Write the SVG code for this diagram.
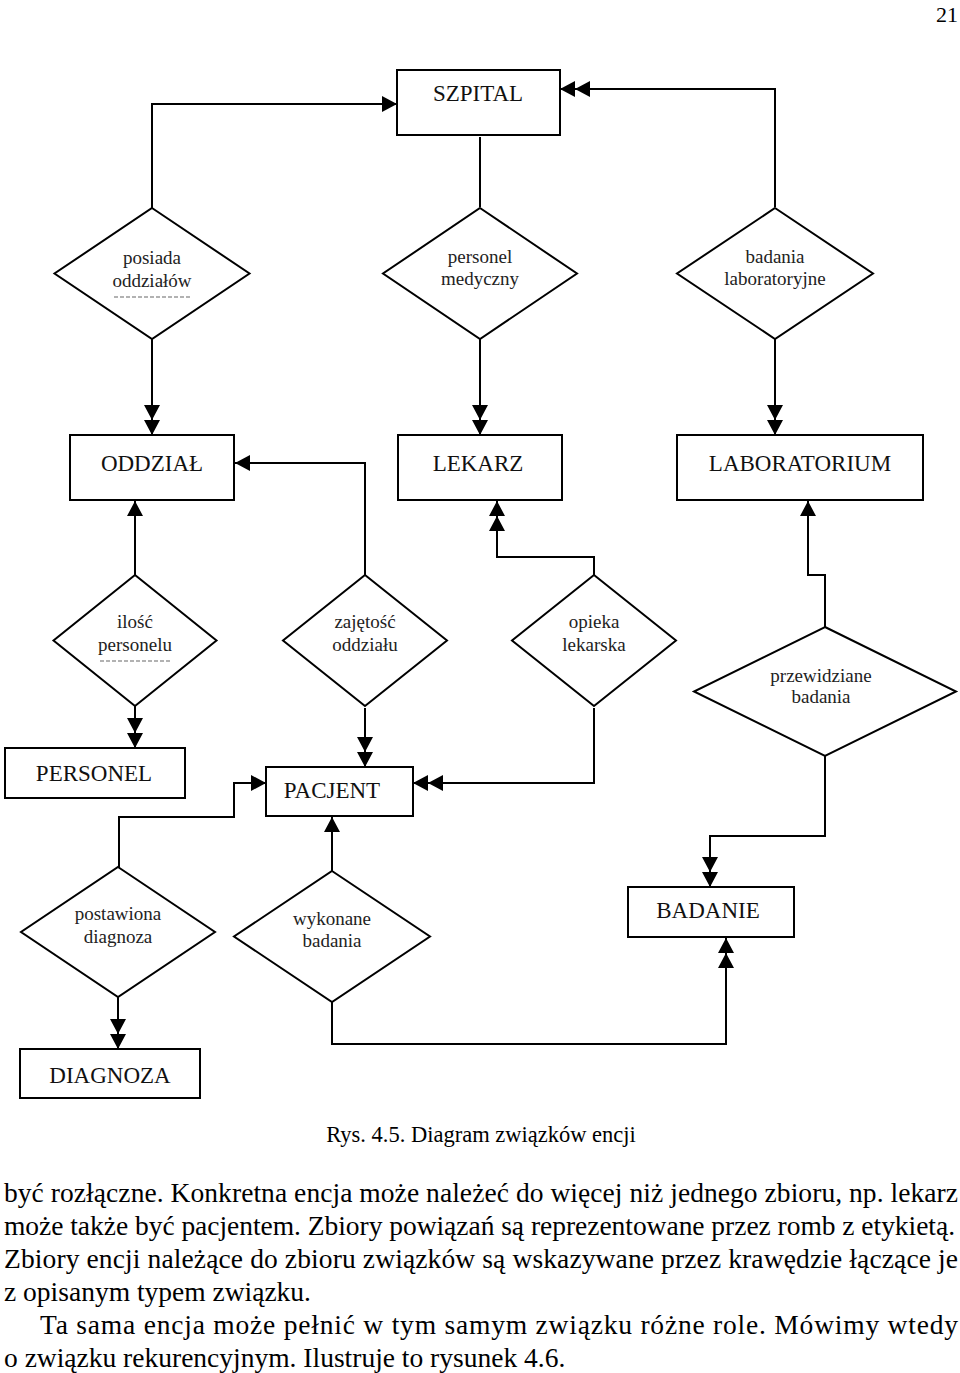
<svg xmlns="http://www.w3.org/2000/svg" width="960" height="1373" viewBox="0 0 960 1373">
<style>
  .bg{fill:#ffffff}
  .ent{fill:#ffffff;stroke:#000;stroke-width:2}
  .rel{fill:#ffffff;stroke:#000;stroke-width:2}
  .et{font-family:"Liberation Serif","Times New Roman",serif;font-size:23px;fill:#111;text-anchor:middle}
  .rt{font-family:"Liberation Serif","Times New Roman",serif;font-size:19px;fill:#222;text-anchor:middle}
  .con{fill:none;stroke:#000;stroke-width:2}
  .body{font-family:"Liberation Serif","Times New Roman",serif;font-size:27.5px;fill:#000}
  .cap{font-family:"Liberation Serif","Times New Roman",serif;font-size:22.5px;fill:#000;text-anchor:middle}
  .art{stroke:#666;stroke-width:1.2;stroke-dasharray:4,2}
</style>
<defs>
  <marker id="a1" markerUnits="userSpaceOnUse" markerWidth="16" markerHeight="18" refX="15" refY="8" orient="auto" overflow="visible">
    <path d="M0,0 L15,8 L0,16 Z" fill="#000"/>
  </marker>
  <marker id="a2" markerUnits="userSpaceOnUse" markerWidth="32" markerHeight="18" refX="30" refY="8" orient="auto" overflow="visible">
    <path d="M0,0 L15,8 L0,16 Z M15,0 L30,8 L15,16 Z" fill="#000"/>
  </marker>
</defs>
<rect class="bg" x="0" y="0" width="960" height="1373"/>
<text x="958" y="22" style="font-family:'Liberation Serif',serif;font-size:22px;text-anchor:end">21</text>

<g id="connectors">
  <path class="con" d="M152,208 V104 H397" marker-end="url(#a1)"/>
  <path class="con" d="M480,207 V137"/>
  <path class="con" d="M775,207 V89 H560" marker-end="url(#a2)"/>
  <path class="con" d="M152,339 V435" marker-end="url(#a2)"/>
  <path class="con" d="M480,339 V435" marker-end="url(#a2)"/>
  <path class="con" d="M775,339 V435" marker-end="url(#a2)"/>
  <path class="con" d="M135,575 V501" marker-end="url(#a1)"/>
  <path class="con" d="M365,575 V463 H235" marker-end="url(#a1)"/>
  <path class="con" d="M594,575 V557 H497 V501" marker-end="url(#a2)"/>
  <path class="con" d="M825,627 V575 H808 V501" marker-end="url(#a1)"/>
  <path class="con" d="M135,706 V748" marker-end="url(#a2)"/>
  <path class="con" d="M365,708 V767" marker-end="url(#a2)"/>
  <path class="con" d="M594,708 V783 H413" marker-end="url(#a2)"/>
  <path class="con" d="M119,867 V817 H234 V783 H266" marker-end="url(#a1)"/>
  <path class="con" d="M332,871 V817" marker-end="url(#a1)"/>
  <path class="con" d="M825,756 V836 H710 V887" marker-end="url(#a2)"/>
  <path class="con" d="M332,1002 V1044 H726 V938" marker-end="url(#a2)"/>
  <path class="con" d="M118,997 V1049" marker-end="url(#a2)"/>
</g>

<g id="szpital">
  <rect class="ent" x="397" y="70" width="163" height="65"/>
  <text class="et" x="478" y="101">SZPITAL</text>
</g>

<g id="posiada-oddzialow">
  <polygon class="rel" points="152,208 249.5,273.5 152,339 54.5,273.5"/>
  <text class="rt" x="152" y="264">posiada</text>
  <text class="rt" x="152" y="287">oddziałów</text>
  <line class="art" x1="114" y1="297" x2="190" y2="297"/>
</g>
<g id="personel-medyczny">
  <polygon class="rel" points="480,208 577,273.5 480,339 383,273.5"/>
  <text class="rt" x="480" y="263">personel</text>
  <text class="rt" x="480" y="285">medyczny</text>
</g>
<g id="badania-laboratoryjne">
  <polygon class="rel" points="775,208 873,273.5 775,339 677,273.5"/>
  <text class="rt" x="775" y="263">badania</text>
  <text class="rt" x="775" y="285">laboratoryjne</text>
</g>

<g id="oddzial">
  <rect class="ent" x="70" y="435" width="164" height="65"/>
  <text class="et" x="152" y="471">ODDZIAŁ</text>
</g>
<g id="lekarz">
  <rect class="ent" x="398" y="435" width="164" height="65"/>
  <text class="et" x="478" y="471">LEKARZ</text>
</g>
<g id="laboratorium">
  <rect class="ent" x="677" y="435" width="246" height="65"/>
  <text class="et" x="800" y="471">LABORATORIUM</text>
</g>

<g id="ilosc-personelu">
  <polygon class="rel" points="135,575 216.5,640.5 135,706 53.5,640.5"/>
  <text class="rt" x="135" y="628">ilość</text>
  <text class="rt" x="135" y="651">personelu</text>
  <line class="art" x1="100" y1="661" x2="170" y2="661"/>
</g>
<g id="zajetosc-oddzialu">
  <polygon class="rel" points="365,575 447,640.5 365,706 283,640.5"/>
  <text class="rt" x="365" y="628">zajętość</text>
  <text class="rt" x="365" y="651">oddziału</text>
</g>
<g id="opieka-lekarska">
  <polygon class="rel" points="594,575 676,640.5 594,706 512,640.5"/>
  <text class="rt" x="594" y="628">opieka</text>
  <text class="rt" x="594" y="651">lekarska</text>
</g>
<g id="przewidziane-badania">
  <polygon class="rel" points="825,627 956,691.5 825,756 694,691.5"/>
  <text class="rt" x="821" y="682">przewidziane</text>
  <text class="rt" x="821" y="703">badania</text>
</g>

<g id="personel">
  <rect class="ent" x="5" y="748" width="180" height="50"/>
  <text class="et" x="94" y="781">PERSONEL</text>
</g>
<g id="pacjent">
  <rect class="ent" x="266" y="767" width="147" height="49"/>
  <text class="et" x="332" y="798">PACJENT</text>
</g>

<g id="postawiona-diagnoza">
  <polygon class="rel" points="118,867 215,932 118,997 21,932"/>
  <text class="rt" x="118" y="920">postawiona</text>
  <text class="rt" x="118" y="943">diagnoza</text>
</g>
<g id="wykonane-badania">
  <polygon class="rel" points="332,871 430,936.5 332,1002 234,936.5"/>
  <text class="rt" x="332" y="925">wykonane</text>
  <text class="rt" x="332" y="947">badania</text>
</g>
<g id="badanie">
  <rect class="ent" x="628" y="887" width="166" height="50"/>
  <text class="et" x="708" y="918">BADANIE</text>
</g>
<g id="diagnoza">
  <rect class="ent" x="20" y="1049" width="180" height="49"/>
  <text class="et" x="110" y="1083">DIAGNOZA</text>
</g>

<text class="cap" x="481" y="1142">Rys. 4.5. Diagram związków encji</text>

<g id="body-text">
  <text class="body" x="4" y="1202" textLength="954" lengthAdjust="spacing">być rozłączne. Konkretna encja może należeć do więcej niż jednego zbioru, np. lekarz</text>
  <text class="body" x="4" y="1235" textLength="951" lengthAdjust="spacing">może także być pacjentem. Zbiory powiązań są reprezentowane przez romb z etykietą.</text>
  <text class="body" x="4" y="1268" textLength="954" lengthAdjust="spacing">Zbiory encji należące do zbioru związków są wskazywane przez krawędzie łączące je</text>
  <text class="body" x="4" y="1301">z opisanym typem związku.</text>
  <text class="body" x="40" y="1334" textLength="918" lengthAdjust="spacing">Ta sama encja może pełnić w tym samym związku różne role. Mówimy wtedy</text>
  <text class="body" x="4" y="1367">o związku rekurencyjnym. Ilustruje to rysunek 4.6.</text>
</g>
</svg>
